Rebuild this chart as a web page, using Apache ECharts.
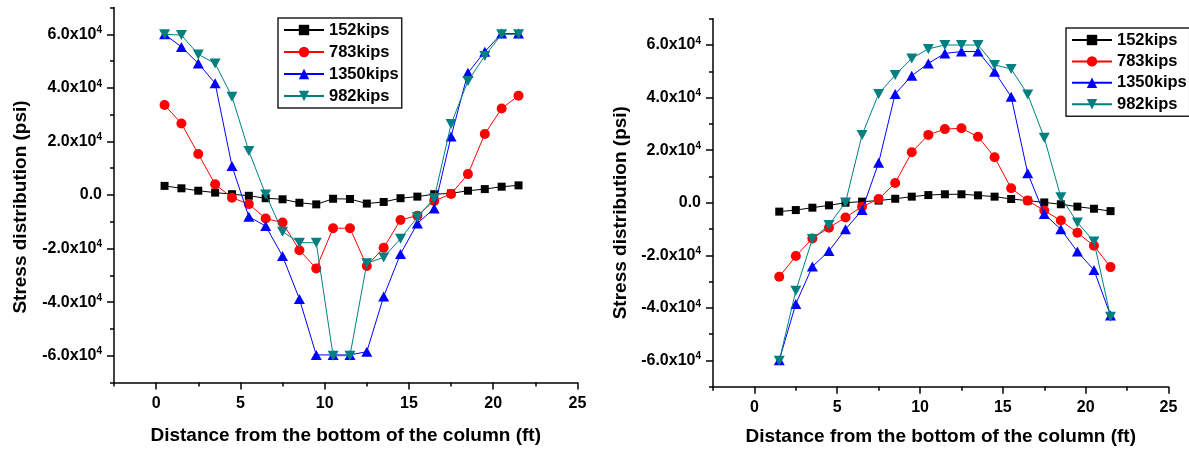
<!DOCTYPE html>
<html><head><meta charset="utf-8">
<script src="https://cdn.jsdelivr.net/npm/echarts@6/dist/echarts.min.js"></script>
<style>html,body{margin:0;padding:0;background:#fff}#c{width:1189px;height:449px}</style>
</head><body><div id="c"></div>
<script>
// ---- data ----
const seriesNames = ['152kips', '783kips', '1350kips', '982kips'];
const xTickLabels = [0, 5, 10, 15, 20, 25];
const yTickLabels = [-60000, -40000, -20000, 0, 20000, 40000, 60000];

const xLeft = [0.5, 1.5, 2.5, 3.5, 4.5, 5.5, 6.5, 7.5, 8.5, 9.5, 10.5, 11.5, 12.5, 13.5, 14.5, 15.5, 16.5, 17.5, 18.5, 19.5, 20.5, 21.5];
const left152 = [3400, 2500, 1600, 900, 300, -300, -1200, -1600, -2900, -3500, -1400, -1500, -3200, -2600, -1200, -600, 300, 600, 1600, 2200, 3100, 3600];
const left783 = [33600, 26700, 15300, 4000, -1000, -3400, -8800, -10300, -20600, -27400, -12400, -12400, -26500, -19700, -9300, -7700, -2200, 400, 7800, 22800, 32300, 37100];
const left1350 = [60000, 55300, 49100, 41700, 10800, -8100, -11600, -22800, -38800, -59700, -59700, -59700, -58500, -37900, -22000, -10600, -5000, 21800, 45600, 53500, 60300, 60300];
const left982 = [60000, 59700, 52500, 49100, 36700, 16400, 200, -13700, -17800, -17800, -60000, -60000, -25500, -23300, -16300, -8300, -1200, 26500, 42600, 51900, 60000, 60000];

const xRight = [1.5, 2.5, 3.5, 4.5, 5.5, 6.5, 7.5, 8.5, 9.5, 10.5, 11.5, 12.5, 13.5, 14.5, 15.5, 16.5, 17.5, 18.5, 19.5, 20.5, 21.5];
const right152 = [-3400, -2800, -1900, -1000, 0, 400, 800, 1500, 2300, 2900, 3200, 3200, 2800, 2300, 1400, 800, 100, -600, -1500, -2300, -3200];
const right783 = [-28200, -20300, -13600, -9500, -5600, -1500, 1400, 7500, 19200, 25800, 28000, 28300, 25100, 17300, 5500, 800, -3000, -6800, -11400, -16400, -24500];
const right1350 = [-59900, -38500, -24300, -18400, -10100, -2800, 15200, 41400, 48300, 53000, 56800, 57500, 57500, 49800, 40300, 11200, -4300, -10100, -18600, -25600, -42900];
const right982 = [-60100, -33500, -13800, -8500, 100, 25800, 41400, 48600, 54900, 58500, 60000, 60000, 60000, 52400, 50900, 41200, 24700, 2100, -7500, -14800, -43400];

// ---- layout ----
const FONT = "'Liberation Sans', Arial, sans-serif";
const gL = {left: 114, top: 7.5, width: 463.5, height: 375};
const gR = {left: 713, top: 18.7, width: 455.5, height: 368};
function tickGrid(g) {
  const ux = g.width / 27.5, uy = g.height / 14;
  return {left: g.left + 2.5 * ux, top: g.top + uy, width: g.width - 2.5 * ux, height: g.height - 2 * uy, ox: 2.5 * ux, oy: uy};
}
const tL = tickGrid(gL), tR = tickGrid(gR);

const styles = [
  {color: '#000000', symbol: 'rect', symbolSize: 8},
  {color: '#ff0000', symbol: 'circle', symbolSize: 10},
  {color: '#0000ff', symbol: 'triangle', symbolSize: [11, 10]},
  {color: '#008080', symbol: 'path://M0,0L10,0L5,9Z', symbolSize: [11, 10]}
];

const axisLineStyle = {color: '#000', width: 1.5};
function mainX(gi, gap) {
  return {gridIndex: gi, type: 'value', min: -2.5, max: 25, interval: 2.5,
    axisLine: {show: true, onZero: false, lineStyle: axisLineStyle},
    axisTick: {show: true, inside: false, length: 4, lineStyle: axisLineStyle},
    axisLabel: {show: false}, splitLine: {show: false},
    name: 'Distance from the bottom of the column (ft)', nameLocation: 'middle', nameGap: gap,
    nameTextStyle: {fontSize: 19, fontWeight: 'bold', color: '#000', fontFamily: FONT}};
}
function mainY(gi, gap, pad) {
  return {gridIndex: gi, type: 'value', min: -70000, max: 70000, interval: 10000,
    axisLine: {show: true, onZero: false, lineStyle: axisLineStyle},
    axisTick: {show: true, inside: false, length: 4, lineStyle: axisLineStyle},
    axisLabel: {show: false}, splitLine: {show: false},
    name: 'Stress distribution (psi)', nameLocation: 'middle', nameGap: gap, nameRotate: 90,
    nameTextStyle: {fontSize: 19, fontWeight: 'bold', color: '#000', fontFamily: FONT, padding: [0, pad, 0, 0]}};
}
function tickX(gi, off, margin) {
  return {gridIndex: gi, type: 'value', min: xTickLabels[0], max: xTickLabels[xTickLabels.length - 1], interval: 5, offset: off,
    axisLine: {show: false, onZero: false},
    axisTick: {show: true, inside: false, length: 7, lineStyle: axisLineStyle},
    axisLabel: {show: true, margin: margin, fontSize: 16, fontWeight: 'bold', color: '#000', fontFamily: FONT},
    splitLine: {show: false}};
}
function tickY(gi, off) {
  return {gridIndex: gi, type: 'value', min: yTickLabels[0], max: yTickLabels[yTickLabels.length - 1], interval: 20000, offset: off,
    axisLine: {show: false, onZero: false},
    axisTick: {show: true, inside: false, length: 7, lineStyle: axisLineStyle},
    axisLabel: {show: true, margin: 12, fontSize: 16, fontWeight: 'bold', color: '#000', fontFamily: FONT, lineHeight: 18,
      formatter: v => v === 0 ? '0.0' : (v / 10000).toFixed(1) + 'x10{s|4}',
      rich: {s: {fontSize: 10, fontWeight: 'bold', color: '#000', fontFamily: FONT, lineHeight: 10, verticalAlign: 'top'}}},
    splitLine: {show: false}};
}
function mk(name, xs, ys, xi, k) {
  const st = styles[k];
  return {name: name, type: 'line', xAxisIndex: xi, yAxisIndex: xi,
    data: xs.map((x, i) => [x, ys[i]]),
    symbol: st.symbol, symbolSize: st.symbolSize, showAllSymbol: true,
    lineStyle: {color: st.color, width: 1}, itemStyle: {color: st.color},
    emphasis: {disabled: true}, z: 2 + k};
}
function legend(left, top, gap) {
  return {data: seriesNames, orient: 'vertical', left: left, top: top, itemWidth: 40, itemHeight: 13, itemGap: gap,
    padding: [3, 3, 3, 5], borderColor: '#222', borderWidth: 1.5, backgroundColor: '#fff', selectedMode: false,
    textStyle: {fontSize: 16.5, fontWeight: 'bold', color: '#000', fontFamily: FONT, lineHeight: 18}};
}
const gridOpt = g => ({left: g.left, top: g.top, width: g.width, height: g.height, containLabel: false, outerBoundsMode: 'none'});

const option = {
  animation: false,
  textStyle: {fontFamily: FONT},
  grid: [gridOpt(gL), gridOpt(tL), gridOpt(gR), gridOpt(tR)],
  xAxis: [mainX(0, 44), tickX(1, tL.oy, 13), mainX(2, 41), tickX(3, tR.oy, 13)],
  yAxis: [mainY(0, 84, 24), tickY(1, tL.ox), mainY(2, 83, 20), tickY(3, tR.ox)],
  legend: [legend(278, 18, 4), legend(1066, 28, 3.4)],
  series: [
    mk(seriesNames[0], xLeft, left152, 0, 0),
    mk(seriesNames[1], xLeft, left783, 0, 1),
    mk(seriesNames[2], xLeft, left1350, 0, 2),
    mk(seriesNames[3], xLeft, left982, 0, 3),
    mk(seriesNames[0], xRight, right152, 2, 0),
    mk(seriesNames[1], xRight, right783, 2, 1),
    mk(seriesNames[2], xRight, right1350, 2, 2),
    mk(seriesNames[3], xRight, right982, 2, 3)
  ]
};
const chart = echarts.init(document.getElementById('c'), null, {renderer: 'canvas'});
chart.setOption(option);
</script>
</body></html>
